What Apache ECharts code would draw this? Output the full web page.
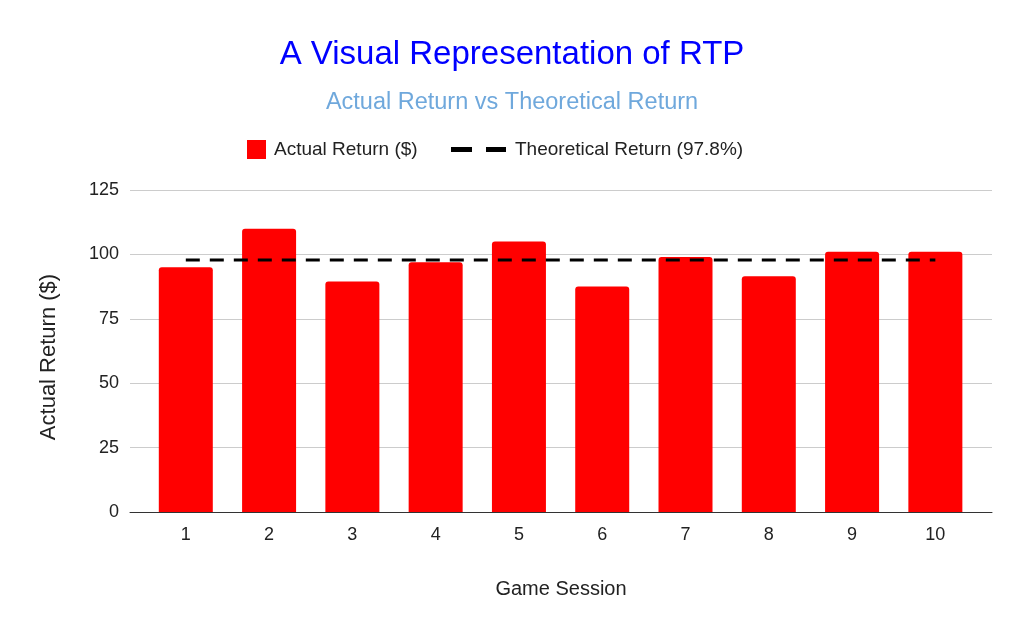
<!doctype html>
<html>
<head>
<meta charset="UTF-8">
<title>A Visual Representation of RTP</title>
<script src="https://cdn.jsdelivr.net/npm/echarts@6/dist/echarts.min.js"></script>
<style>
  html, body { margin: 0; padding: 0; background: #fff; }
  #main { width: 1024px; height: 633px; }
</style>
</head>
<body>
<div id="main"></div>
<script>
var sessions = [1, 2, 3, 4, 5, 6, 7, 8, 9, 10];
var actualReturn = [95, 110, 89.5, 97, 105, 87.5, 99, 91.5, 101, 101];
var theoreticalReturn = [97.8, 97.8, 97.8, 97.8, 97.8, 97.8, 97.8, 97.8, 97.8, 97.8];
var yTicks = [0, 25, 50, 75, 100, 125];

var font = 'Liberation Sans, Arial, sans-serif';
var chart = echarts.init(document.getElementById('main'));

// the x axis is numeric so the gridlines can run past the first and last session, as in the sheet chart
var barData = sessions.map(function (s, i) { return [s, actualReturn[i]]; });
var lineData = sessions.map(function (s, i) { return [s, theoreticalReturn[i]]; });

var option = {
    backgroundColor: '#fff',
    textStyle: { fontFamily: font },
    title: [{
        text: 'A Visual Representation of RTP',
        left: 'center',
        top: 33,
        textStyle: { color: '#0000ff', fontSize: 33, fontWeight: 'normal', fontFamily: font }
    }, {
        text: 'Actual Return vs Theoretical Return',
        left: 'center',
        top: 86,
        textStyle: { color: '#6fa8dc', fontSize: 23.5, fontWeight: 'normal', fontFamily: font }
    }],
    legend: [{
        data: [{ name: 'Actual Return ($)', icon: 'rect' }],
        left: 242,
        top: 135,
        itemWidth: 19,
        itemHeight: 19,
        textStyle: { fontSize: 19, color: '#222', fontFamily: font, padding: [0, 0, 0, 3] }
    }, {
        data: [{ name: 'Theoretical Return (97.8%)', icon: 'path://M0,0H21V5H0Z M35,0H55V5H35Z' }],
        left: 446,
        top: 135,
        itemWidth: 55,
        itemHeight: 5,
        textStyle: { fontSize: 19, color: '#222', fontFamily: font, padding: [0, 0, 0, 4] }
    }],
    grid: { left: 130, right: 32, top: 190, bottom: 121 },
    xAxis: {
        type: 'value',
        min: 0.33,
        max: 10.68,
        name: 'Game Session',
        nameLocation: 'middle',
        nameGap: 67,
        nameTextStyle: { fontSize: 20, color: '#222' },
        splitLine: { show: false },
        axisTick: { show: false },
        axisLine: { show: true, lineStyle: { color: '#333', width: 1 } },
        axisLabel: { fontSize: 18, color: '#222', margin: 14, customValues: sessions }
    },
    yAxis: {
        type: 'value',
        min: yTicks[0],
        max: yTicks[yTicks.length - 1],
        interval: 25,
        name: 'Actual Return ($)',
        nameLocation: 'middle',
        nameGap: 70,
        nameTextStyle: { fontSize: 22, color: '#222', padding: [0, 12, 0, 0] },
        axisLine: { show: false },
        axisTick: { show: false },
        axisLabel: { fontSize: 18, color: '#222', margin: 11 },
        splitLine: { lineStyle: { color: '#cccccc' } }
    },
    series: [{
        name: 'Actual Return ($)',
        type: 'bar',
        data: barData,
        barWidth: 54,
        itemStyle: { color: '#ff0000', borderRadius: [3, 3, 0, 0] }
    }, {
        name: 'Theoretical Return (97.8%)',
        type: 'line',
        data: lineData,
        symbol: 'none',
        z: 3,
        itemStyle: { color: '#000' },
        lineStyle: { color: '#000', width: 3, type: [14, 10] }
    }]
};

chart.setOption(option);
</script>
</body>
</html>
